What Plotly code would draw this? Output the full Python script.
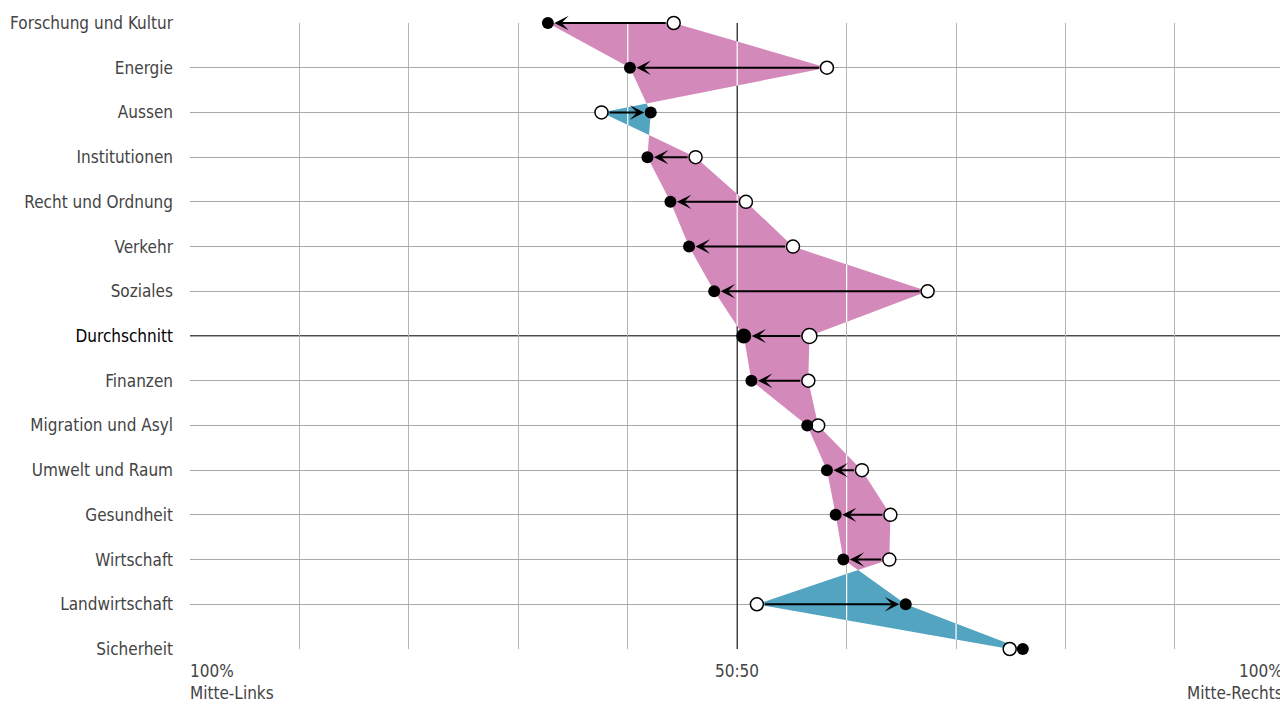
import numpy as np
import plotly.graph_objects as go

# ---------------- data ----------------
categories = ["Forschung und Kultur", "Energie", "Aussen", "Institutionen",
              "Recht und Ordnung", "Verkehr", "Soziales", "Durchschnitt",
              "Finanzen", "Migration und Asyl", "Umwelt und Raum", "Gesundheit",
              "Wirtschaft", "Landwirtschaft", "Sicherheit"]
# open circles (start) and filled circles (end), 0 = 100% Mitte-Links, 100 = 100% Mitte-Rechts
vorher = [44.2, 58.2, 37.6, 46.2, 50.8, 55.1, 67.4, 56.6, 56.5, 57.4, 61.4, 64.0, 63.9, 51.8, 74.9]
nachher = [32.7, 40.2, 42.1, 41.8, 43.9, 45.6, 47.9, 50.6, 51.3, 56.4, 58.2, 59.0, 59.7, 65.4, 76.1]
x_tick_labels = ["100%<br>Mitte-Links", "50:50", "100%<br>Mitte-Rechts"]

PINK = "#D489BB"
BLUE = "#52A4C0"
FONT = "Liberation Sans Narrow, DejaVu Sans Condensed, Arial Narrow, sans-serif"

n = len(categories)
ys = list(range(n))
f = np.array(nachher, dtype=float)
o = np.array(vorher, dtype=float)
d = o - f

fig = go.Figure()

# ---------- difference areas (split at crossings) ----------
seq = []
for i in range(n):
    seq.append((float(i), f[i], o[i]))
    if i < n - 1 and d[i] * d[i + 1] < 0:
        t = d[i] / (d[i] - d[i + 1])
        xc = f[i] + t * (f[i + 1] - f[i])
        seq.append((i + t, xc, xc))

runs = []
cur = [seq[0]]
cur_sign = np.sign(seq[0][2] - seq[0][1])
for p in seq[1:]:
    s = np.sign(p[2] - p[1])
    if s == 0:
        cur.append(p)
        runs.append((cur_sign, cur))
        cur = [p]
        cur_sign = None
    else:
        if cur_sign is None:
            cur_sign = s
        cur.append(p)
runs.append((cur_sign, cur))

for s, pts in runs:
    px = [p[1] for p in pts] + [p[2] for p in pts[::-1]]
    py = [p[0] for p in pts] + [p[0] for p in pts[::-1]]
    fig.add_trace(go.Scatter(x=px, y=py, fill="toself", mode="lines",
                             line=dict(width=0), fillcolor=PINK if s > 0 else BLUE,
                             hoverinfo="skip", showlegend=False))

# ---------- white grid segments over the areas ----------
wx, wy = [], []
for c in range(10, 100, 10):
    for i in range(n - 1):
        tt = np.linspace(0, 1, 401)
        fv = f[i] + tt * (f[i + 1] - f[i])
        ov = o[i] + tt * (o[i + 1] - o[i])
        inside = (fv - c) * (ov - c) < 0
        start = None
        for k in range(len(tt)):
            if inside[k] and start is None:
                start = k
            if (not inside[k] or k == len(tt) - 1) and start is not None:
                end = k
                wx += [c, c, None]
                wy += [i + tt[start], i + tt[end], None]
                start = None
fig.add_trace(go.Scatter(x=wx, y=wy, mode="lines", line=dict(color="white", width=1.2),
                         hoverinfo="skip", showlegend=False))

# ---------- markers ----------
sizes_f = [15 if c == "Durchschnitt" else 12 for c in categories]
sizes_o = [15 if c == "Durchschnitt" else 13 for c in categories]
fig.add_trace(go.Scatter(x=vorher, y=ys, mode="markers", cliponaxis=False,
                         marker=dict(color="white", size=sizes_o, opacity=1,
                                     line=dict(color="black", width=1.5)),
                         showlegend=False))
fig.add_trace(go.Scatter(x=nachher, y=ys, mode="markers", cliponaxis=False,
                         marker=dict(color="black", size=sizes_f, opacity=1,
                                     line=dict(color="black", width=0)),
                         showlegend=False))

# ---------- arrows ----------
for i in range(n):
    if abs(o[i] - f[i]) < 2:
        continue
    big = categories[i] == "Durchschnitt"
    fig.add_annotation(x=f[i], y=i, ax=o[i], ay=i, xref="x", yref="y",
                       axref="x", ayref="y", text="", showarrow=True,
                       arrowhead=3, arrowsize=1.2, arrowwidth=2, arrowcolor="black",
                       standoff=8 if big else 6.5, startstandoff=7.5 if big else 6.5)

# ---------- reference lines ----------
fig.add_shape(type="line", x0=50, x1=50, y0=0, y1=n - 1, xref="x", yref="y",
              line=dict(color="#222222", width=1.2), layer="between")
di = categories.index("Durchschnitt")
fig.add_shape(type="line", x0=0, x1=1, xref="paper", y0=di, y1=di, yref="y",
              line=dict(color="#111111", width=1.3), layer="between")

# ---------- x labels ----------
lab_font = dict(family=FONT, size=17, color="#444444")
fig.add_annotation(x=0, xref="x", y=0, yref="paper", yanchor="top", xanchor="left",
                   text=x_tick_labels[0], showarrow=False, align="left",
                   xshift=-2, yshift=-10, font=lab_font)
fig.add_annotation(x=50, xref="x", y=0, yref="paper", yanchor="top", xanchor="center",
                   text=x_tick_labels[1], showarrow=False,
                   yshift=-10, font=lab_font)
fig.add_annotation(x=1.0045, xref="paper", y=0, yref="paper", yanchor="top", xanchor="right",
                   text=x_tick_labels[2], showarrow=False, align="right",
                   yshift=-10, font=lab_font)

ticktext = [("<span style='color:#000000'>%s</span>" % c) if c == "Durchschnitt" else c
            for c in categories]

fig.update_layout(
    width=1280, height=705,
    margin=dict(l=190, r=0, t=23, b=56),
    plot_bgcolor="white", paper_bgcolor="white",
    font=dict(family=FONT, size=17, color="#444444"),
    xaxis=dict(range=[0, 99.6], tickmode="array", tickvals=list(range(0, 101, 10)),
               showticklabels=False, showgrid=True, gridcolor="#b5b5b5", gridwidth=1,
               zeroline=False, showline=False, ticks=""),
    yaxis=dict(range=[n - 1, 0], tickmode="array", tickvals=ys, ticktext=ticktext,
               showgrid=True, gridcolor="#a8a8a8", gridwidth=1, zeroline=False,
               showline=False, ticks="", ticklabelstandoff=16,
               tickfont=dict(family=FONT, size=17, color="#444444")),
)

fig.write_html("out.html", config={"displayModeBar": False},
               post_script="document.body.style.margin='0';document.body.style.overflow='hidden';")
